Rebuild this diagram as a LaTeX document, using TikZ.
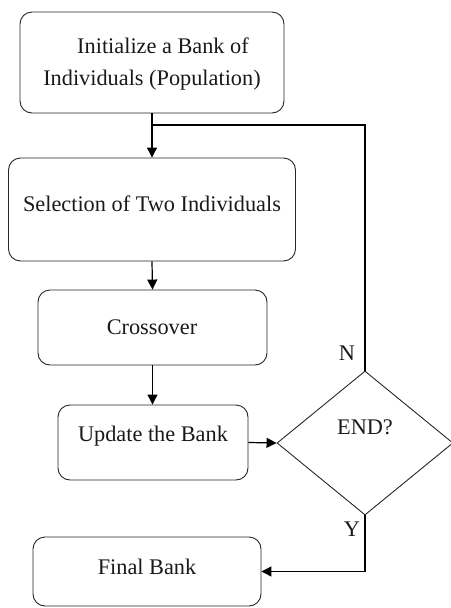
\documentclass[tikz,border=0pt]{standalone}
\usepackage{fontspec}
\setmainfont{Liberation Serif}
\usetikzlibrary{shapes.geometric,arrows.meta}
\begin{document}
\begin{tikzpicture}[x=1pt,y=-1pt,
  box/.style={draw=black!85,line width=0.9pt,rounded corners=12pt,inner sep=0pt},
  txt/.style={inner sep=0pt,text=black!90,font=\fontsize{22.3}{32}\selectfont,align=center},
  conn/.style={draw=black,line width=1.2pt},
  arr/.style={conn,-{Triangle[length=10pt,width=10pt]}}]
\useasboundingbox (0,0) rectangle (450,608);
% boxes
\node[box,minimum width=264pt,minimum height=101pt] (b1) at (152,62.5) {};
\node[box,minimum width=287pt,minimum height=103pt] (b2) at (152,209.5) {};
\node[box,minimum width=229pt,minimum height=75pt] (b3) at (152.5,327.5) {};
\node[box,minimum width=190pt,minimum height=75pt] (b4) at (153,442.5) {};
\node[box,minimum width=228pt,minimum height=69pt] (b5) at (147,571.5) {};
\node[draw=black!85,line width=0.9pt,diamond,inner sep=0pt,minimum width=176pt,minimum height=144pt] (d) at (365,443) {};
% texts
\node[txt] (t1) at (152,64) {\hspace*{22pt}Initialize a Bank of\\Individuals (Population)};
\node[txt] (t2) at (152,204) {Selection of Two Individuals};
\node[txt] (t3) at (152,327) {Crossover};
\node[txt] (t4) at (153,436) {Update the Bank};
\node[txt] (t5) at (147,567) {Final Bank};
\node[txt] (t6) at (365,427) {END?};
\node[txt] (n) at (347,353) {N};
\node[txt] (y) at (352,529) {Y};
% connectors
\coordinate (j) at (152,125);
\draw[arr] (b1.south) -- (b2.north);
\draw[conn] (d.north) |- (j);
\draw[arr] (b2.south) -- (b3.north);
\draw[arr] (b3.south) -- (b3.south |- b4.north);
\draw[arr] (b4.east) -- (d.west);
\draw[arr] (d.south) |- (b5.east);
\end{tikzpicture}
\end{document}
